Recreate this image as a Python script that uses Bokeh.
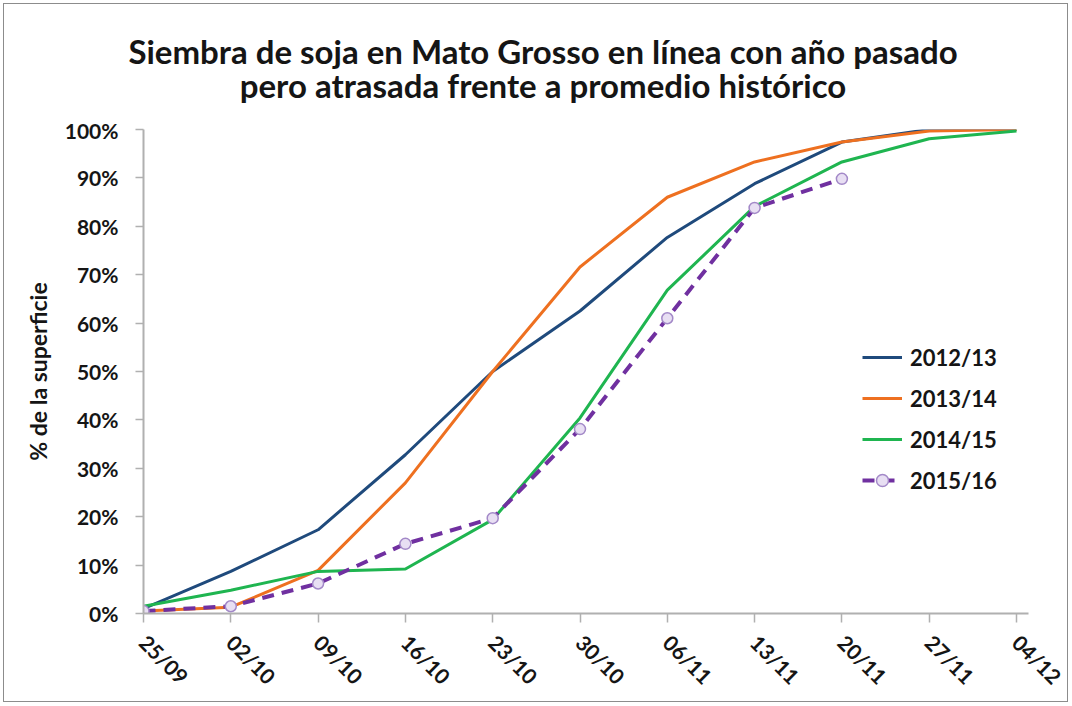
import numpy as np
from bokeh.plotting import figure
from bokeh.layouts import column
from bokeh.models import (Range1d, NumeralTickFormatter, FixedTicker, Legend, LegendItem)
from bokeh.core.properties import value
from bokeh.embed import file_html
from bokeh.resources import INLINE

fechas = ["25/09", "02/10", "09/10", "16/10", "23/10", "30/10", "06/11", "13/11", "20/11", "27/11", "04/12"]
s2012 = [0.010, 0.087, 0.173, 0.328, 0.500, 0.625, 0.777, 0.888, 0.974, 1.000, 1.000]
s2013 = [0.005, 0.013, 0.089, 0.270, 0.500, 0.716, 0.860, 0.933, 0.974, 0.997, 1.000]
s2014 = [0.015, 0.048, 0.087, 0.092, 0.194, 0.404, 0.668, 0.841, 0.933, 0.981, 0.997]
s2015 = [0.005, 0.015, 0.062, 0.144, 0.197, 0.381, 0.610, 0.838, 0.898]
series = ["2012/13", "2013/14", "2014/15", "2015/16"]
y_ticks = [0.0, 0.1, 0.2, 0.3, 0.4, 0.5, 0.6, 0.7, 0.8, 0.9, 1.0]
titulo = ["Siembra de soja en Mato Grosso en línea con año pasado",
          "pero atrasada frente a promedio histórico"]

FONT = "Lato"
TXT = "#151515"
W = 1063
x_all = list(range(len(fechas)))

# ---- title strip (pixel-unit ranges) ----
TH = 113
tf = figure(width=W, height=TH, output_backend="svg", toolbar_location=None, title=None,
            x_range=Range1d(0, W), y_range=Range1d(0, TH),
            x_axis_type=None, y_axis_type=None,
            min_border_left=0, min_border_right=0, min_border_top=0, min_border_bottom=0)
if "frame_align" in tf.properties():
    tf.frame_align = False
tf.outline_line_color = None
tf.background_fill_color = "white"
tf.border_fill_color = "white"
tf.text(x=[538.5, 538.5], y=[67, 33], text=titulo, text_align="center",
        text_baseline="alphabetic", text_font=value(FONT), text_font_size="33px",
        text_font_style="bold", text_color=TXT)

# ---- main chart ----
p = figure(width=W, height=584, output_backend="svg", toolbar_location=None,
           x_range=Range1d(0, (len(fechas) - 1) * 885 / 873), y_range=Range1d(0, 1),
           min_border_left=139, min_border_right=39, min_border_bottom=88, min_border_top=12)
p.outline_line_color = None
p.xgrid.grid_line_color = None
p.ygrid.grid_line_color = None
p.background_fill_color = "white"
p.border_fill_color = "white"

p.xaxis.ticker = FixedTicker(ticks=x_all)
p.xaxis.major_label_overrides = {i: f for i, f in enumerate(fechas)}
p.xaxis.major_label_orientation = -np.pi / 4
p.yaxis.ticker = FixedTicker(ticks=y_ticks)
p.yaxis.formatter = NumeralTickFormatter(format="0%")
for ax in (p.xaxis, p.yaxis):
    ax.axis_line_color = "#b0b0b0"
    ax.axis_line_width = 2
    ax.major_tick_line_color = "#b0b0b0"
    ax.major_tick_line_width = 1.5
    ax.major_tick_in = 0
    ax.minor_tick_line_color = None
    ax.major_label_text_font = FONT
    ax.major_label_text_font_style = "bold"
    ax.major_label_text_font_size = "21px"
    ax.major_label_text_color = TXT
p.yaxis.major_tick_out = 8
p.xaxis.major_tick_out = 9
p.yaxis.major_label_standoff = 17
p.xaxis.major_label_standoff = 16
p.yaxis.axis_label = "% de la superficie"
p.yaxis.axis_label_text_font = FONT
p.yaxis.axis_label_text_font_style = "bold"
p.yaxis.axis_label_text_font_size = "23px"
p.yaxis.axis_label_text_color = TXT
p.yaxis.axis_label_standoff = 10

r1 = p.line(x_all, s2012, line_color="#1F4A7C", line_width=3)
r2 = p.line(x_all, s2013, line_color="#EE7020", line_width=3)
r3 = p.line(x_all, s2014, line_color="#1FB550", line_width=3)
x15 = list(range(len(s2015)))
r4 = p.line(x15, s2015, line_color="#7030A0", line_width=4, line_dash="12 8")
r5 = p.scatter(x15, s2015, size=11, marker="circle", fill_color="#E8DFF3", line_color="#A389C8", line_width=1.5)

legend = Legend(items=[
    LegendItem(label=series[0], renderers=[r1]),
    LegendItem(label=series[1], renderers=[r2]),
    LegendItem(label=series[2], renderers=[r3]),
    LegendItem(label=series[3], renderers=[r4, r5]),
], location=(719, 118))
legend.border_line_color = None
legend.background_fill_alpha = 0
legend.label_text_font = FONT
legend.label_text_font_style = "bold"
legend.label_text_font_size = "22px"
legend.label_text_color = TXT
legend.glyph_width = 40
legend.glyph_height = 30
legend.label_height = 30
legend.spacing = 11
legend.padding = 3
legend.margin = 0
legend.label_standoff = 8
p.add_layout(legend, "center")

page = column(tf, p, spacing=0, styles={"border": "1px solid #8c8c8c", "margin": "3px"})
open("out.html", "w").write(file_html(page, INLINE))
